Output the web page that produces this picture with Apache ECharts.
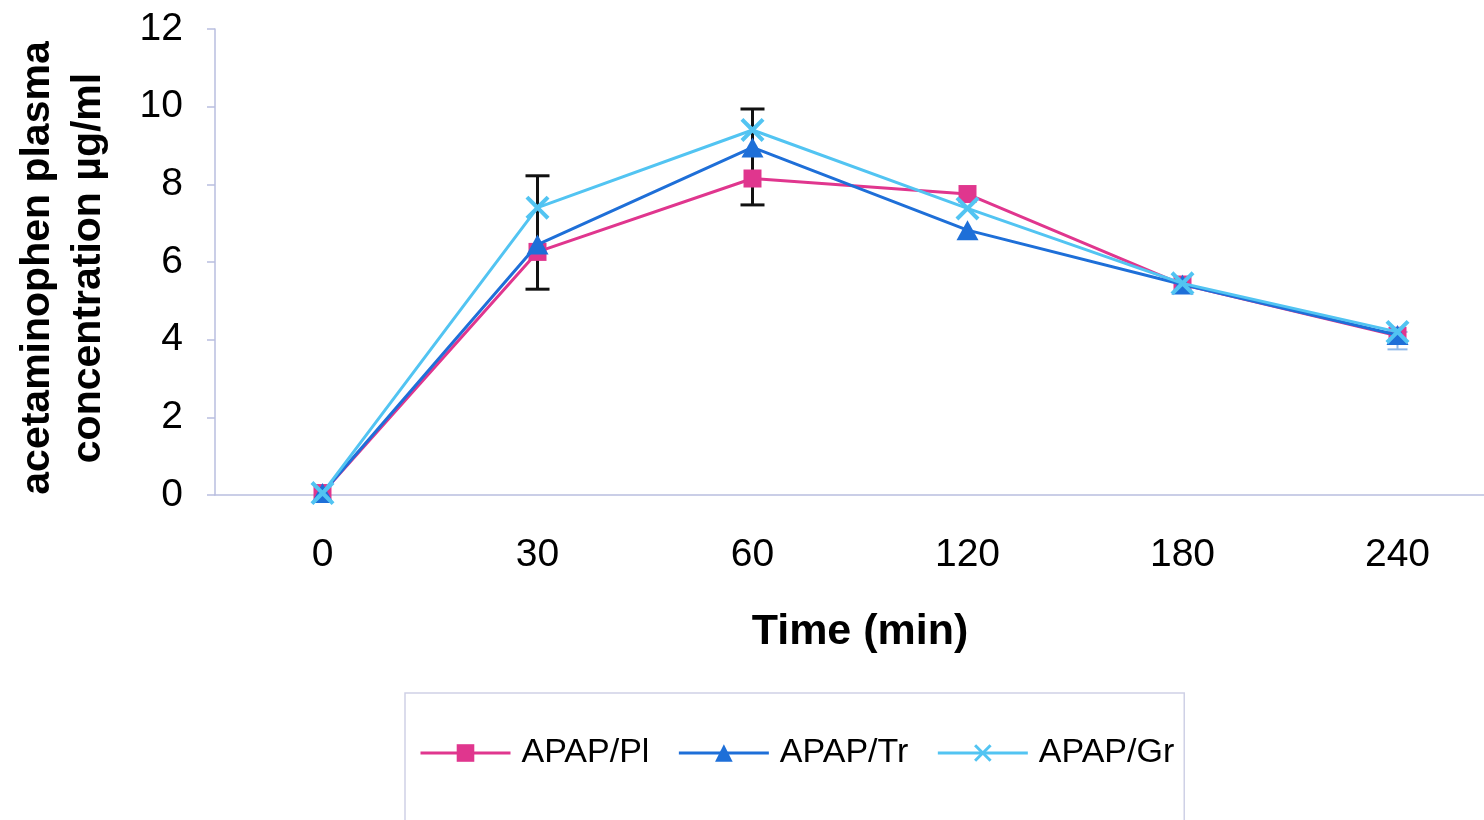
<!DOCTYPE html>
<html>
<head>
<meta charset="utf-8">
<script src="https://cdn.jsdelivr.net/npm/echarts@6/dist/echarts.min.js"></script>
<style>
html,body{margin:0;padding:0;background:#fff;}
#chart{width:1484px;height:820px;}
</style>
</head>
<body>
<div id="chart"></div>
<script>
const categories = ['0', '30', '60', '120', '180', '240'];
const seriesNames = ['APAP/Pl', 'APAP/Tr', 'APAP/Gr'];
const apapPl = [0.05, 6.26, 8.15, 7.75, 5.42, 4.1];
const apapTr = [0.05, 6.45, 8.95, 6.82, 5.42, 4.12];
const apapGr = [0.05, 7.4, 9.4, 7.38, 5.45, 4.2];
const errLow = [null, 5.3, 7.47, null, null, 3.75];
const errHigh = [null, 8.22, 9.94, null, null, 4.2];
const yTicks = [0, 2, 4, 6, 8, 10, 12];

const FONT = '"Liberation Sans", Arial, sans-serif';
const colors = ['#e0368e', '#1e6fd8', '#52c4f2'];
const crossPath = 'path://M0,1.2L1.2,0L5,3.8L8.8,0L10,1.2L6.2,5L10,8.8L8.8,10L5,6.2L1.2,10L0,8.8L3.8,5Z';

const errData = categories.map((c, i) => [i, errLow[i], errHigh[i]]).filter(d => d[1] != null);

const chart = echarts.init(document.getElementById('chart'), null, {renderer: 'canvas'});
chart.setOption({
  backgroundColor: '#ffffff',
  animation: false,
  grid: {left: 215, top: 29, width: 1290, height: 466, containLabel: false, outerBoundsMode: 'none'},
  legend: {
    data: seriesNames,
    left: 405,
    top: 693,
    orient: 'horizontal',
    itemWidth: 90,
    itemHeight: 22,
    itemGap: 28,
    padding: [43, 10, 60, 14],
    borderColor: '#cfd1e6',
    borderWidth: 1.5,
    lineStyle: {width: 3},
    textStyle: {fontFamily: FONT, fontSize: 34, color: '#000', padding: [0, 0, 0, 6]}
  },
  xAxis: {
    type: 'category',
    data: categories,
    boundaryGap: true,
    name: 'Time (min)',
    nameLocation: 'middle',
    nameGap: 116,
    nameTextStyle: {fontFamily: FONT, fontSize: 43, fontWeight: 'bold', color: '#000'},
    axisLine: {lineStyle: {color: '#b9bedf', width: 1.5}},
    axisTick: {show: false},
    axisLabel: {fontFamily: FONT, fontSize: 39, color: '#000', margin: 41},
    splitLine: {show: false}
  },
  yAxis: {
    type: 'value',
    min: yTicks[0],
    max: yTicks[yTicks.length - 1],
    interval: 2,
    name: 'acetaminophen plasma\nconcentration µg/ml',
    nameLocation: 'middle',
    nameGap: 101,
    nameTextStyle: {fontFamily: FONT, fontSize: 41, fontWeight: 'bold', color: '#000', lineHeight: 51, padding: [0, 12, 0, 0]},
    axisLine: {show: true, lineStyle: {color: '#b9bedf', width: 1.5}},
    axisTick: {show: true, length: 8, lineStyle: {color: '#b9bedf', width: 1.5}},
    axisLabel: {fontFamily: FONT, fontSize: 39, color: '#000', margin: 32},
    splitLine: {show: false}
  },
  series: [
    {
      type: 'custom',
      name: 'err',
      z: 1,
      data: errData,
      renderItem: function (params, api) {
        const i = api.value(0);
        const lo = api.coord([i, api.value(1)]);
        const hi = api.coord([i, api.value(2)]);
        const isLast = i === categories.length - 1;
        const col = isLast ? '#8fb9ea' : '#111111';
        const w = isLast ? 10 : 12;
        const lw = isLast ? 2 : 3;
        const style = {stroke: col, lineWidth: lw};
        return {
          type: 'group',
          children: [
            {type: 'line', shape: {x1: lo[0], y1: lo[1], x2: hi[0], y2: hi[1]}, style: style},
            {type: 'line', shape: {x1: lo[0] - w, y1: lo[1], x2: lo[0] + w, y2: lo[1]}, style: style},
            {type: 'line', shape: {x1: hi[0] - w, y1: hi[1], x2: hi[0] + w, y2: hi[1]}, style: style}
          ]
        };
      }
    },
    {
      name: seriesNames[0], type: 'line', data: apapPl, z: 3,
      symbol: 'rect', symbolSize: 18, showAllSymbol: true,
      itemStyle: {color: colors[0]},
      lineStyle: {color: colors[0], width: 3}
    },
    {
      name: seriesNames[1], type: 'line', data: apapTr, z: 4,
      symbol: 'triangle', symbolSize: [22, 20], showAllSymbol: true,
      itemStyle: {color: colors[1]},
      lineStyle: {color: colors[1], width: 3}
    },
    {
      name: seriesNames[2], type: 'line', data: apapGr, z: 5,
      symbol: crossPath, symbolSize: 24, showAllSymbol: true,
      itemStyle: {color: colors[2]},
      lineStyle: {color: colors[2], width: 3}
    }
  ]
});
</script>
</body>
</html>
